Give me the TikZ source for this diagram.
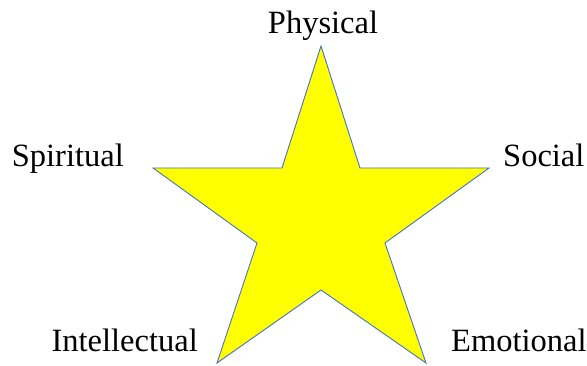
\documentclass[tikz,border=0pt]{standalone}
\usepackage{fontspec}
\setmainfont{Liberation Serif}
\usetikzlibrary{positioning}
\definecolor{staryellow}{RGB}{255, 255, 0}
\definecolor{staredge}{RGB}{68, 114, 196}

\begin{document}
\begin{tikzpicture}[x=1pt, y=-1pt,
        % Reusable styles
        star/.style={draw=staredge, fill=staryellow, line width=0.9pt, line join=miter},
        label/.style={font=\fontsize{32.5}{36}\selectfont, inner sep=0pt}
    ]
    \useasboundingbox (0, 0) rectangle (587, 366);

    % Outer and inner corners of the star
    \coordinate (top) at (321, 46);
    \coordinate (inTR) at (360, 168);
    \coordinate (right) at (489, 168);
    \coordinate (inR) at (385, 243);
    \coordinate (botR) at (426, 363);
    \coordinate (inB) at (321, 290);
    \coordinate (botL) at (217, 363);
    \coordinate (inL) at (257, 243);
    \coordinate (left) at (153, 168);
    \coordinate (inTL) at (282, 168);

    \filldraw[star] (top) -- (inTR) -- (right) -- (inR) -- (botR) -- (inB)
        -- (botL) -- (inL) -- (left) -- (inTL) -- cycle;

    % Labels
    \node[label, anchor=base] (physical) at (323, 34) {Physical};
    \node[label, anchor=base east] (spiritual) at (124, 167) {Spiritual};
    \node[label, anchor=base west] (social) at (503, 167) {Social};
    \node[label, anchor=base east] (intellectual) at (198, 352) {Intellectual};
    \node[label, anchor=base west] (emotional) at (451, 352) {Emotional};
\end{tikzpicture}
\end{document}
